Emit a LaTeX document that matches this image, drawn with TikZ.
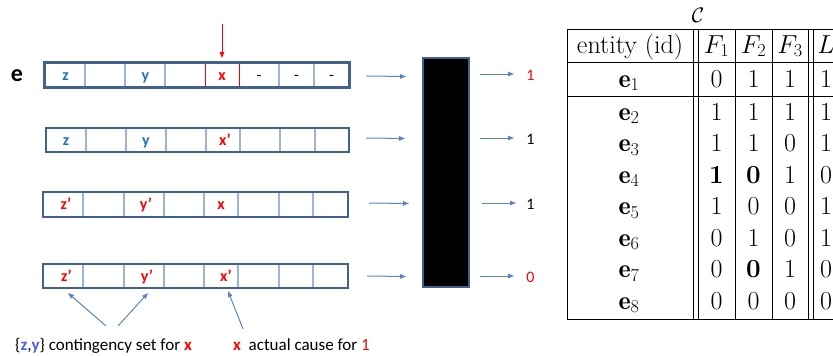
\RequirePackage{fix-cm}
\documentclass[tikz,border=0pt]{standalone}
\usepackage{fontspec}
\newfontfamily\calib{Carlito}
\usetikzlibrary{arrows.meta}
\definecolor{boxblue}{HTML}{41628F}
\definecolor{divblue}{HTML}{9DB3D8}
\definecolor{cellblue}{HTML}{1F72C0}
\definecolor{arrblue}{HTML}{5A84C2}
\definecolor{setblue}{HTML}{4B5EEA}
\definecolor{redc}{HTML}{FF0000}
\begin{document}
\begin{tikzpicture}[x=1pt,y=-1pt,
  rowbox/.style={draw=boxblue, line width=2, minimum width=304, minimum height=24, inner sep=0, fill=white},
  div/.style={draw=divblue, line width=1.3},
  reddiv/.style={draw=redc, line width=1},
  lbl/.style={font=\calib\bfseries\fontsize{16}{18}\selectfont, inner sep=0, anchor=base},
  dashtxt/.style={font=\calib\fontsize{16}{18}\selectfont, inner sep=0, anchor=base},
  arr/.style={draw=arrblue, line width=1, -{Triangle[length=6,width=4.5]}},
  redarr/.style={draw=redc, line width=1, -{Triangle[length=6,width=4.5]}},
  outp/.style={font=\calib\fontsize{16}{18}\selectfont, inner sep=0, anchor=base},
  note/.style={font=\calib\fontsize{17}{20}\selectfont, inner sep=0, anchor=base west},
  tcell/.style={font=\fontsize{26}{31}\selectfont, inner sep=0, anchor=base},
  rule/.style={draw=black, line width=0.9}
]
\useasboundingbox (0,0) rectangle (833,356);
% ---- row boxes
\node[rowbox] (r1) at (197,75) {};
\node[rowbox, minimum width=303] (r2) at (197.5,140) {};
\node[rowbox, minimum width=305, minimum height=25] (r3) at (195.5,204.5) {};
\node[rowbox, minimum width=305] (r4) at (195.5,276) {};
% dividers
\foreach \x in {85,125,165,279,314} \draw[div] (\x,64) -- (\x,86);
\foreach \x in {205,239} \draw[reddiv] (\x,64) -- (\x,86);
\foreach \x in {86,126,166,206,240,280,315} \draw[div] (\x,129) -- (\x,151);
\foreach \x in {83,124,164,204,238,279,313} \draw[div] (\x,193) -- (\x,216);
\foreach \x in {83,124,164,204,238,279,313} \draw[div] (\x,265) -- (\x,287);
\draw[draw=boxblue, line width=2] (r1.north west) rectangle (r1.south east);
% label e
\node[font=\calib\bfseries\fontsize{24}{26}\selectfont, inner sep=0, anchor=base] (le) at (17,81) {e};
% cell texts
\node[lbl, text=cellblue] (c11) at (65.5,80) {z};
\node[lbl, text=cellblue] (c12) at (145.5,80) {y};
\node[lbl, text=redc] (c13) at (222,80) {x};
\node[dashtxt] (c14) at (259,80) {-};
\node[dashtxt] (c15) at (296.5,80) {-};
\node[dashtxt] (c16) at (331.5,80) {-};
\node[lbl, text=cellblue] (c21) at (66,145) {z};
\node[lbl, text=cellblue] (c22) at (146,145) {y};
\node[lbl, text=redc] (c23) at (225,145) {x’};
\node[lbl, text=redc] (c31) at (66,209.5) {z’};
\node[lbl, text=redc] (c32) at (146,209.5) {y’};
\node[lbl, text=redc] (c33) at (221,209.5) {x};
\node[lbl, text=redc] (c41) at (66.5,281) {z’};
\node[lbl, text=redc] (c42) at (147,281) {y’};
\node[lbl, text=redc] (c43) at (226,281) {x’};
% red arrow
\coordinate (rtop) at (222,24);
\coordinate (rbot) at (222,58);
\draw[redarr] (rtop) -- (rbot);
% black box
\node[draw=boxblue, line width=1.5, fill=black, minimum width=46, minimum height=229, inner sep=0] (bb) at (446,172.5) {};
% input arrows
\coordinate (i1a) at (366,76); \coordinate (i1b) at (406,76.5);
\coordinate (i2a) at (366,138); \coordinate (i2b) at (405,138.5);
\coordinate (i3a) at (369,203); \coordinate (i3b) at (409,203.5);
\coordinate (i4a) at (367,276); \coordinate (i4b) at (406,276.5);
\draw[arr] (i1a) -- (i1b);
\draw[arr] (i2a) -- (i2b);
\draw[arr] (i3a) -- (i3b);
\draw[arr] (i4a) -- (i4b);
% output arrows
\coordinate (o1a) at (480,74); \coordinate (o1b) at (514,74);
\coordinate (o2a) at (480,138); \coordinate (o2b) at (514,138);
\coordinate (o3a) at (482,203); \coordinate (o3b) at (516,203);
\coordinate (o4a) at (480,276); \coordinate (o4b) at (514,276);
\draw[arr] (o1a) -- (o1b);
\draw[arr] (o2a) -- (o2b);
\draw[arr] (o3a) -- (o3b);
\draw[arr] (o4a) -- (o4b);
\node[outp, text=redc] (v1) at (530.5,80) {1};
\node[outp] (v2) at (530.5,144) {1};
\node[outp] (v3) at (530.5,209) {1};
\node[outp, text=redc] (v4) at (530.5,282) {0};
% bottom notes
\node[note] (n1) at (15,350) {\{\textcolor{setblue}{\bfseries z},\textcolor{setblue}{\bfseries y}\} contingency set for \textcolor{redc}{\bfseries x}};
\node[note] (n2) at (233,350) {\textcolor{redc}{\bfseries x}\ \ actual cause for \textcolor{redc}{1}};
\coordinate (b1) at (106,326); \coordinate (t1) at (68,293);
\coordinate (b2) at (118,326); \coordinate (t2) at (148,293);
\coordinate (b3) at (243,329); \coordinate (t3) at (228,291);
\draw[arr] (b1) -- (t1);
\draw[arr] (b2) -- (t2);
\draw[arr] (b3) -- (t3);
% ---- table
\begin{scope}
\clip (0,0) rectangle (833,356);
\node[font=\fontsize{21}{25}\selectfont, inner sep=0, anchor=base] (cap) at (698,23) {$\mathcal{C}$};
\foreach \y in {29,62,96,319} \draw[rule] (567,\y) -- (850,\y);
\foreach \x in {567,693,698,735,772,808,813} \draw[rule] (\x,29) -- (\x,319);
\node[tcell] (h0) at (630,53) {entity (id)};
\node[tcell] (h1) at (716.5,53) {$F_1$};
\node[tcell] (h2) at (753.5,53) {$F_2$};
\node[tcell] (h3) at (790,53) {$F_3$};
\node[tcell] (h4) at (826,53) {$L$};
\foreach \r/\yy/\a/\b/\c/\d in {1/87/0/1/1/1, 2/120/1/1/1/1, 3/151.5/1/1/0/1, 4/183/\textbf{1}/\textbf{0}/1/0, 5/214.5/1/0/0/1, 6/246/0/1/0/1, 7/277.5/0/\textbf{0}/1/0, 8/309/0/0/0/0}{
  \node[tcell] (e\r) at (629,\yy) {$\mathbf{e}_{\r}$};
  \node[tcell] (f1\r) at (716.5,\yy) {\a};
  \node[tcell] (f2\r) at (753.5,\yy) {\b};
  \node[tcell] (f3\r) at (790,\yy) {\c};
  \node[tcell] (l\r) at (826,\yy) {\d};
}
\end{scope}
\end{tikzpicture}
\end{document}
